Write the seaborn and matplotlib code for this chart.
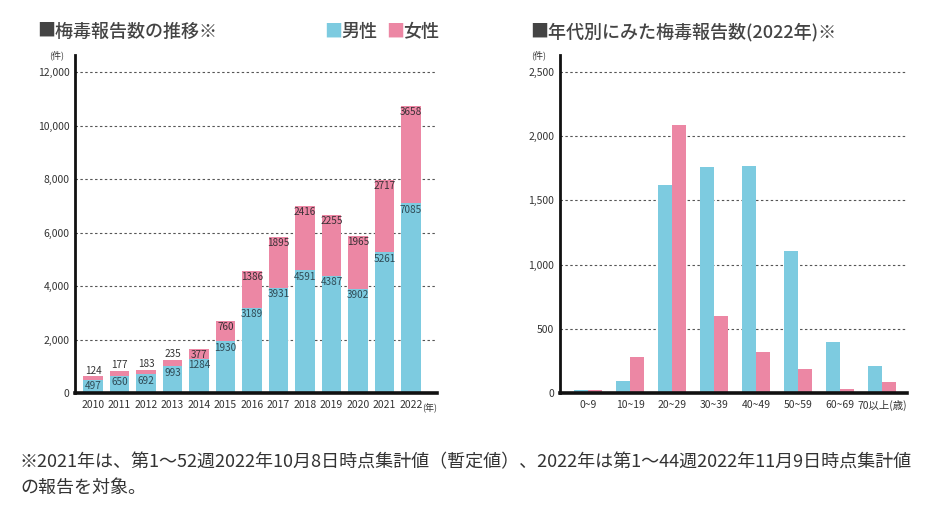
import matplotlib
matplotlib.use("Agg")
import matplotlib.pyplot as plt
import matplotlib.ticker as mticker
import seaborn as sns
import pandas as pd

# ---- data ----
years = ['2010', '2011', '2012', '2013', '2014', '2015', '2016',
         '2017', '2018', '2019', '2020', '2021', '2022']
male_by_year = [497, 650, 692, 993, 1284, 1930, 3189, 3931, 4591, 4387, 3902, 5261, 7085]
female_by_year = [124, 177, 183, 235, 377, 760, 1386, 1895, 2416, 2255, 1965, 2717, 3658]

age_groups = ['0~9', '10~19', '20~29', '30~39', '40~49', '50~59', '60~69', '70以上(歳)']
male_by_age = [21, 91, 1619, 1759, 1769, 1104, 394, 207]
female_by_age = [26, 280, 2088, 601, 319, 184, 34, 88]

left_yticks = [0, 2000, 4000, 6000, 8000, 10000, 12000]
right_yticks = [0, 500, 1000, 1500, 2000, 2500]

BLUE = '#7DCBE0'
PINK = '#EC87A4'
DARK = '#444444'

sns.set_theme(style='white')
plt.rcParams['font.family'] = ['Noto Sans CJK JP', 'DejaVu Sans']

W, H = 934, 507
fig = plt.figure(figsize=(W / 100, H / 100), dpi=100)


def px_axes(x0, x1, ytop, ybot):
    return fig.add_axes([x0 / W, (H - ybot) / H, (x1 - x0) / W, (ybot - ytop) / H])


def style_axes(ax, ticks, ymax):
    ax.set_ylim(0, ymax)
    ax.set_yticks(ticks)
    ax.yaxis.set_major_formatter(mticker.FuncFormatter(lambda v, p: f'{int(v):,}'))
    ax.set_axisbelow(True)
    ax.yaxis.grid(True, linestyle=(0, (2.2, 2.2)), color='#555555', lw=0.8)
    ax.xaxis.grid(False)
    for s in ['top', 'right']:
        ax.spines[s].set_visible(False)
    ax.spines['left'].set_color('#111111')
    ax.spines['left'].set_linewidth(2.0)
    ax.spines['bottom'].set_color('#111111')
    ax.spines['bottom'].set_linewidth(2.6)
    ax.tick_params(axis='both', length=0, labelsize=7.5, colors='#333333')
    ax.tick_params(axis='y', pad=4)
    ax.tick_params(axis='x', pad=5)
    ax.set_xlabel('')
    ax.set_ylabel('')
    ax.set_facecolor('white')


# ---- left chart: stacked bars ----
ax1 = px_axes(75, 437, 55, 393)
totals = [m + f for m, f in zip(male_by_year, female_by_year)]
sns.barplot(x=years, y=totals, color=PINK, width=0.72, saturation=1, linewidth=0, ax=ax1)
sns.barplot(x=years, y=male_by_year, color=BLUE, width=0.72, saturation=1, linewidth=0, ax=ax1)
ax1.set_xlim(-0.68, 12.98)
style_axes(ax1, left_yticks, 12636)

for i, (m, f, t) in enumerate(zip(male_by_year, female_by_year, totals)):
    ax1.annotate(str(m), (i, m), xytext=(0, -1), textcoords='offset points',
                 ha='center', va='top', fontsize=7.2, color='#2f4a55')
    if i < 4:
        ax1.annotate(str(f), (i, t), xytext=(0, 0.5), textcoords='offset points',
                     ha='center', va='bottom', fontsize=7.2, color='#333333')
    else:
        ax1.annotate(str(f), (i, t), xytext=(0, -0.8), textcoords='offset points',
                     ha='center', va='top', fontsize=7.2, color='#3a3035')

ax1.text(1.0, -0.03, '(年)', transform=ax1.transAxes, ha='right', va='top',
         fontsize=6.5, color='#333333')
ax1.text(-0.03, 1.0, '(件)', transform=ax1.transAxes, ha='right', va='center',
         fontsize=6.5, color='#333333')

# ---- right chart: grouped bars ----
ax2 = px_axes(560, 907, 55, 393)
df_age = pd.DataFrame({
    'age': age_groups * 2,
    'count': male_by_age + female_by_age,
    'sex': ['男性'] * len(age_groups) + ['女性'] * len(age_groups),
})
sns.barplot(data=df_age, x='age', y='count', hue='sex', palette=[BLUE, PINK],
            width=0.67, saturation=1, linewidth=0, legend=False, ax=ax2)
ax2.set_xlim(-0.67, 7.6)
style_axes(ax2, right_yticks, 2632)
ax2.text(-0.04, 1.0, '(件)', transform=ax2.transAxes, ha='right', va='center',
         fontsize=6.5, color='#333333')

# ---- titles / legend ----
TW = 'medium'
fig.text(37 / W, 1 - 32 / H, '■梅毒報告数の推移※', ha='left', va='center',
         fontsize=13, fontweight=TW, color=DARK)
fig.text(530 / W, 1 - 32 / H, '■年代別にみた梅毒報告数(2022年)※', ha='left', va='center',
         fontsize=13, fontweight=TW, color=DARK)
fig.text(324 / W, 1 - 32 / H, '■', ha='left', va='center', fontsize=13, color=BLUE)
fig.text(341 / W, 1 - 32 / H, '男性', ha='left', va='center', fontsize=13,
         fontweight=TW, color=DARK)
fig.text(386 / W, 1 - 32 / H, '■', ha='left', va='center', fontsize=13, color=PINK)
fig.text(403 / W, 1 - 32 / H, '女性', ha='left', va='center', fontsize=13,
         fontweight=TW, color=DARK)

# ---- footnote ----
fig.text(20 / W, 1 - 462 / H,
         '※2021年は、第1～52週2022年10月8日時点集計値（暫定値）、2022年は第1～44週2022年11月9日時点集計値',
         ha='left', va='center', fontsize=13, color='#333333')
fig.text(20 / W, 1 - 488 / H, 'の報告を対象。', ha='left', va='center',
         fontsize=13, color='#333333')

fig.savefig('out.png', dpi=100, facecolor='white')
